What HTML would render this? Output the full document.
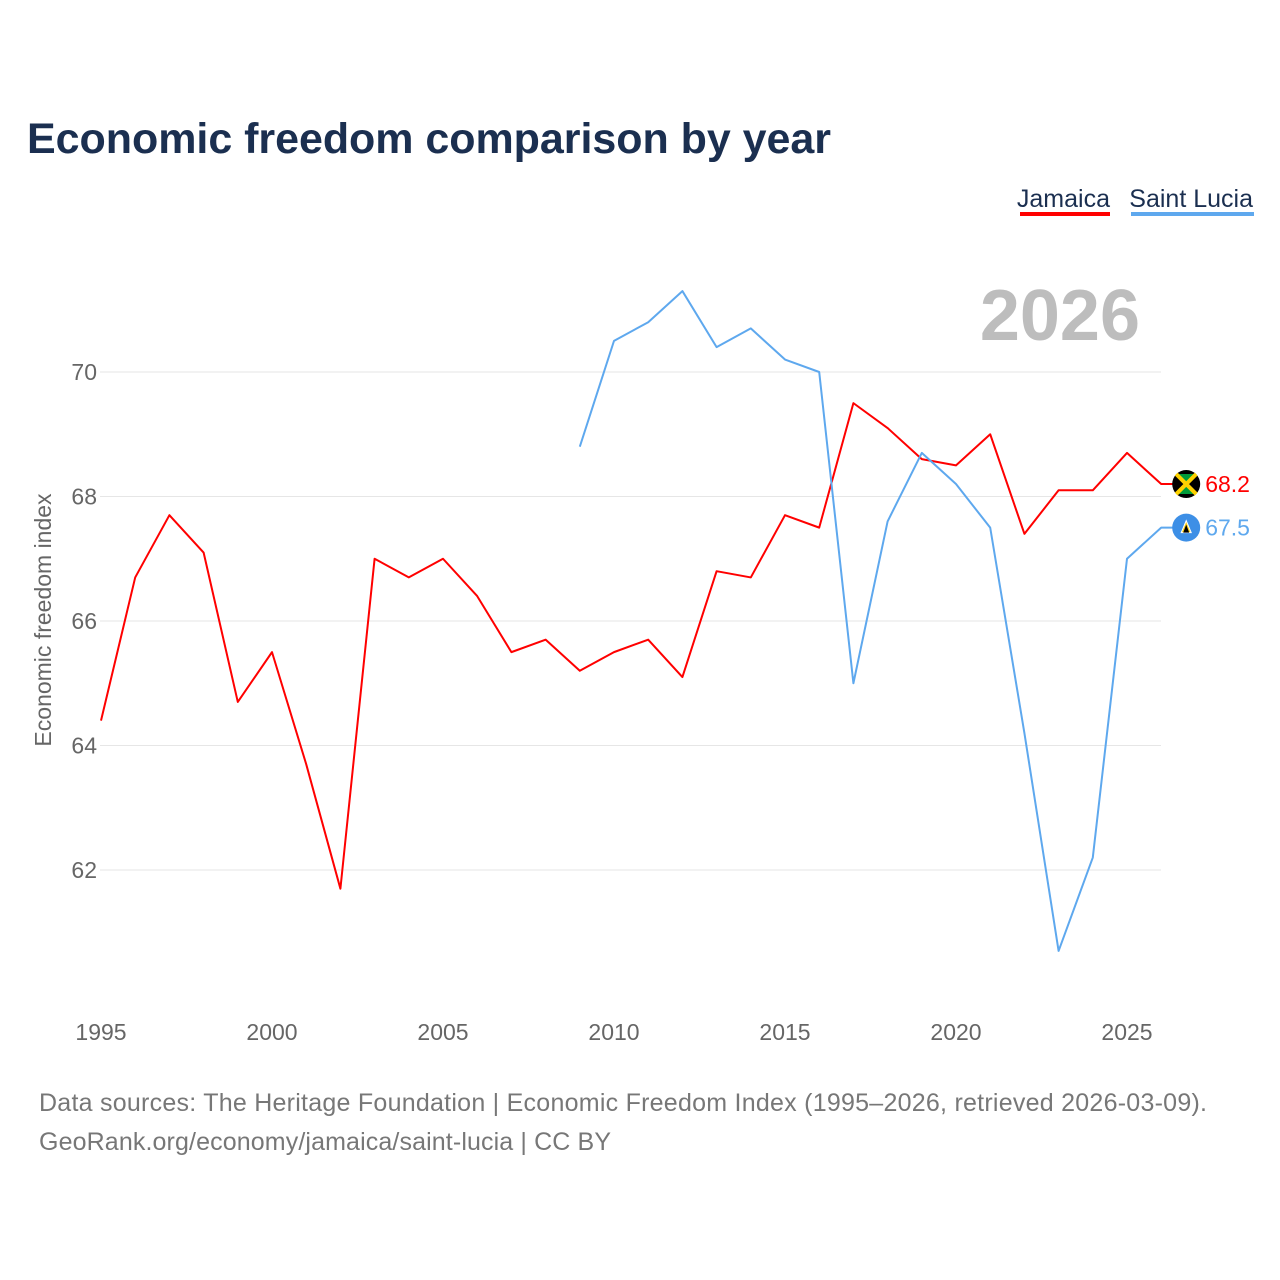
<!DOCTYPE html>
<html><head><meta charset="utf-8"><style>
body{margin:0;background:#fff;font-family:"Liberation Sans",sans-serif;}
svg{display:block}
</style></head><body>
<svg id="c" width="1280" height="1280" xmlns="http://www.w3.org/2000/svg">
<text x="27" y="153" font-size="43" font-weight="bold" fill="#1b2f50" textLength="804">Economic freedom comparison by year</text>
<g>
<text x="1110" y="207" font-size="25" fill="#1b2f50" text-anchor="end">Jamaica</text>
<rect x="1020" y="212" width="90" height="4" fill="#ff0000"/>
<text x="1253" y="207" font-size="25" fill="#1b2f50" text-anchor="end">Saint Lucia</text>
<rect x="1131" y="212" width="123" height="4" fill="#5ea8ee"/>
</g>
<text x="1140" y="340" font-size="72" font-weight="bold" fill="#bdbdbd" text-anchor="end">2026</text>
<text transform="translate(51,620) rotate(-90)" font-size="23" fill="#666" text-anchor="middle">Economic freedom index</text>
<g id="grid"></g><g id="lines"></g>
<text x="39" y="1111" font-size="25" fill="#777" textLength="1168">Data sources: The Heritage Foundation | Economic Freedom Index (1995–2026, retrieved 2026-03-09).</text>
<text x="39" y="1150" font-size="25" fill="#777" textLength="572">GeoRank.org/economy/jamaica/saint-lucia | CC BY</text>
</svg>
<script>
const yTicks=[62,64,66,68,70];
const xTicks=[1995,2000,2005,2010,2015,2020,2025];
const jamYears=[1995,1996,1997,1998,1999,2000,2001,2002,2003,2004,2005,2006,2007,2008,2009,2010,2011,2012,2013,2014,2015,2016,2017,2018,2019,2020,2021,2022,2023,2024,2025,2026];
const jamaica=[64.4,66.7,67.7,67.1,64.7,65.5,63.7,61.7,67.0,66.7,67.0,66.4,65.5,65.7,65.2,65.5,65.7,65.1,66.8,66.7,67.7,67.5,69.5,69.1,68.6,68.5,69.0,67.4,68.1,68.1,68.7,68.2];
const sluYears=[2009,2010,2011,2012,2013,2014,2015,2016,2017,2018,2019,2020,2021,2022,2023,2024,2025,2026];
const saintLucia=[68.8,70.5,70.8,71.3,70.4,70.7,70.2,70.0,65.0,67.6,68.7,68.2,67.5,64.2,60.7,62.2,67.0,67.5];
const NS="http://www.w3.org/2000/svg";
const X=y=>101+(y-1995)*34.2;
const Y=v=>372+(70-v)*62.25;
const grid=document.getElementById('grid'),lines=document.getElementById('lines');
function mk(t,a,p){const e=document.createElementNS(NS,t);for(const k in a)e.setAttribute(k,a[k]);p.appendChild(e);return e;}
yTicks.forEach(v=>{
 const l=mk('line',{x1:100,x2:1161,y1:Y(v),y2:Y(v),stroke:'#e6e6e6','stroke-width':1},grid);
 
 
 const t=mk('text',{x:97,y:Y(v)+8,'font-size':23,fill:'#666','text-anchor':'end'},grid);
 t.textContent=v;
 
 
});
xTicks.forEach(v=>{
 const t=mk('text',{x:X(v),y:1040,'font-size':23,fill:'#666','text-anchor':'middle'},grid);
 t.textContent=v;
 
 
});
function series(yrs,vals,col,name,flag){
 const ly=yrs[yrs.length-1],lv=vals[vals.length-1];
 const pts=yrs.map((y,i)=>X(y)+','+Y(vals[i]));
 pts.push((X(ly)+12)+','+Y(lv));
 const p=mk('polyline',{points:pts.join(' '),fill:'none',stroke:col,'stroke-width':2,'stroke-linejoin':'round'},lines);
 
 
 const cx=X(ly)+25,cy=Y(lv);
 const g=mk('g',{},lines);
 
 
 if(flag==='jm'){
  mk('circle',{cx:cx,cy:cy,r:14,fill:'#000'},g);
  mk('path',{d:`M${cx-10},${cy-10} L${cx+10},${cy-10} L${cx},${cy} Z M${cx-10},${cy+10} L${cx+10},${cy+10} L${cx},${cy} Z`,fill:'#009b3a'},g);
  mk('path',{d:`M${cx-10},${cy-10} L${cx+10},${cy+10} M${cx+10},${cy-10} L${cx-10},${cy+10}`,stroke:'#fed100','stroke-width':4},g);
 } else {
  mk('circle',{cx:cx,cy:cy,r:14,fill:'#3d8fe6'},g);
  mk('path',{d:`M${cx},${cy-7} L${cx+5},${cy+5} L${cx-5},${cy+5} Z`,fill:'#fcd116',stroke:'#fff','stroke-width':1},g);
  mk('path',{d:`M${cx},${cy-3} L${cx+3},${cy+5} L${cx-3},${cy+5} Z`,fill:'#000'},g);
 }
 const t=mk('text',{x:X(ly)+44,y:Y(lv)+8,'font-size':23,fill:col},lines);
 t.textContent=lv.toFixed(1);
 
 
}
series(jamYears,jamaica,'#ff0000','jamaica','jm');
series(sluYears,saintLucia,'#5ea8ee','saint-lucia','lc');
</script>
</body></html>
